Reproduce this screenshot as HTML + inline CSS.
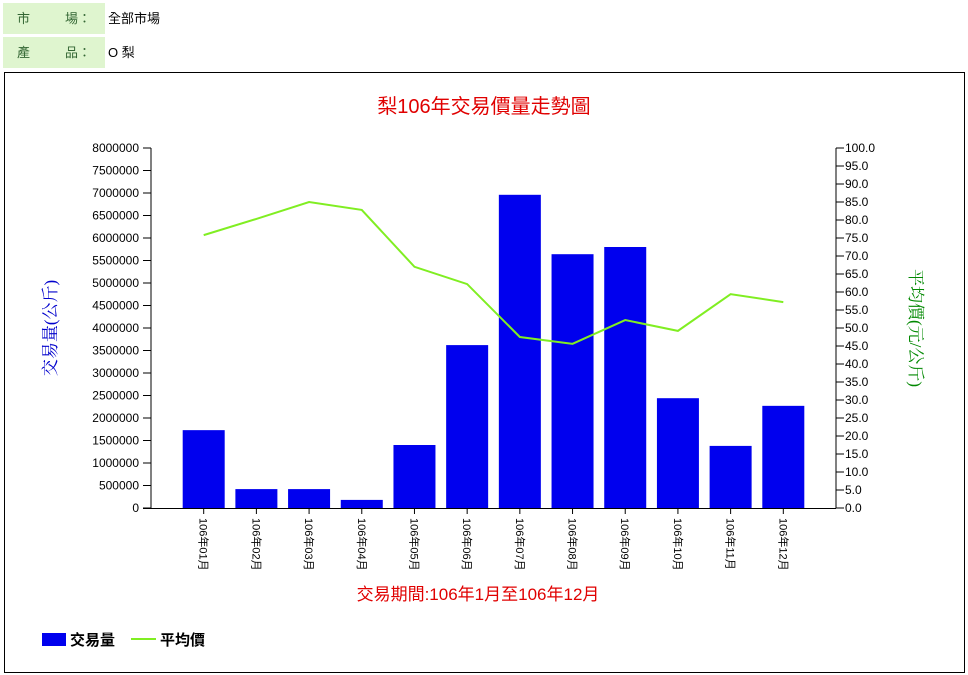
<!DOCTYPE html>
<html><head><meta charset="utf-8">
<style>
body{margin:0;background:#fff;width:968px;height:675px;overflow:hidden;font-family:"Liberation Sans","Noto Sans CJK TC",sans-serif;}
.hdr{position:absolute;left:3px;width:102px;height:31px;background:#dff5cf;color:#336633;font-size:13px;line-height:31px;}
.val{position:absolute;left:108px;font-size:13px;line-height:31px;color:#000;}
#box{position:absolute;left:4px;top:72px;width:959px;height:599px;border:1px solid #000;}
</style></head><body>
<div class="hdr" style="top:3px"><span style="position:absolute;left:14px">市</span><span style="position:absolute;left:62px">場：</span></div>
<div class="val" style="top:3px">全部市場</div>
<div class="hdr" style="top:37px"><span style="position:absolute;left:14px">產</span><span style="position:absolute;left:62px">品：</span></div>
<div class="val" style="top:37px">O 梨</div>
<div id="box"></div>
<svg id="chart" width="968" height="675" style="position:absolute;left:0;top:0"></svg>
<script>
const categories=["106年01月","106年02月","106年03月","106年04月","106年05月","106年06月","106年07月","106年08月","106年09月","106年10月","106年11月","106年12月"];
const volumes=[1730000,420000,420000,180000,1400000,3620000,6960000,5640000,5800000,2440000,1380000,2270000];
const prices=[75.8,80.3,85.0,82.8,67.0,62.2,47.5,45.6,52.2,49.2,59.4,57.2];
const leftTicks=[0,500000,1000000,1500000,2000000,2500000,3000000,3500000,4000000,4500000,5000000,5500000,6000000,6500000,7000000,7500000,8000000];
const rightTicks=[0,5,10,15,20,25,30,35,40,45,50,55,60,65,70,75,80,85,90,95,100];
const svg=document.getElementById('chart');const NS='http://www.w3.org/2000/svg';
const X0=151,X1=836,Y0=508,Y1=148;
const band=(X1-X0)/(categories.length+1);
const xc=i=>X0+(i+1)*band;
const yL=v=>Y0-(v/8000000)*(Y0-Y1);
const yR=v=>Y0-(v/100)*(Y0-Y1);
function mk(t,a,txt){const e=document.createElementNS(NS,t);for(const k in a)e.setAttribute(k,a[k]);if(txt!=null)e.textContent=txt;svg.appendChild(e);return e;}
let e;
e=mk('text',{x:484,y:113,'text-anchor':'middle','font-size':20,fill:'#e00000','font-family':'"Liberation Sans","Noto Sans CJK TC",sans-serif'},'梨106年交易價量走勢圖');

// bars
volumes.forEach((v,i)=>{const b=mk('rect',{x:xc(i)-21,y:yL(v),width:42,height:Y0-yL(v),fill:'#0000ee'});
});
// axes
e=mk('line',{x1:X0,y1:Y1,x2:X0,y2:Y0,stroke:'#000'});
e=mk('line',{x1:X1,y1:Y1,x2:X1,y2:Y0,stroke:'#000'});
e=mk('line',{x1:X0-8,y1:Y0+0.5,x2:X1,y2:Y0+0.5,stroke:'#000'});
leftTicks.forEach(t=>{mk('line',{x1:X0-8,y1:yL(t),x2:X0,y2:yL(t),stroke:'#000'});
e=mk('text',{x:X0-12,y:yL(t)+4,'text-anchor':'end','font-size':12,fill:'#000'},String(t));
});
rightTicks.forEach(t=>{mk('line',{x1:X1,y1:yR(t),x2:X1+8,y2:yR(t),stroke:'#000'});
e=mk('text',{x:X1+9,y:yR(t)+4,'font-size':12,fill:'#000'},t.toFixed(1));
});
categories.forEach((c,i)=>{mk('line',{x1:xc(i),y1:Y0,x2:xc(i),y2:Y0+6,stroke:'#000'});
e=mk('text',{x:0,y:0,'font-size':11,fill:'#000',transform:`translate(${xc(i)-4},${Y0+10}) rotate(90)`},c);
});
// line
e=mk('polyline',{points:prices.map((p,i)=>xc(i)+','+yR(p)).join(' '),fill:'none',stroke:'#80ee22','stroke-width':2});

// axis titles
e=mk('text',{x:0,y:0,'font-size':17,fill:'#0000cc','text-anchor':'middle','font-family':'"Liberation Serif","Noto Serif CJK SC",serif',transform:'translate(56,328) rotate(-90)'},'交易量(公斤)');

e=mk('text',{x:0,y:0,'font-size':17,fill:'#008800','text-anchor':'middle','font-family':'"Liberation Serif","Noto Serif CJK SC",serif',transform:'translate(910,328) rotate(90)'},'平均價(元/公斤)');

e=mk('text',{x:478,y:600,'text-anchor':'middle','font-size':17,fill:'#e00000'},'交易期間:106年1月至106年12月');

// legend
e=mk('rect',{x:42,y:633,width:24,height:13,fill:'#0000ee'});
e=mk('text',{x:70,y:645,'font-size':15,'font-weight':'bold',fill:'#000'},'交易量');
e=mk('line',{x1:131,y1:639,x2:156,y2:639,stroke:'#80ee22','stroke-width':2});
e=mk('text',{x:160,y:645,'font-size':15,'font-weight':'bold',fill:'#000'},'平均價');
</script>
</body></html>
